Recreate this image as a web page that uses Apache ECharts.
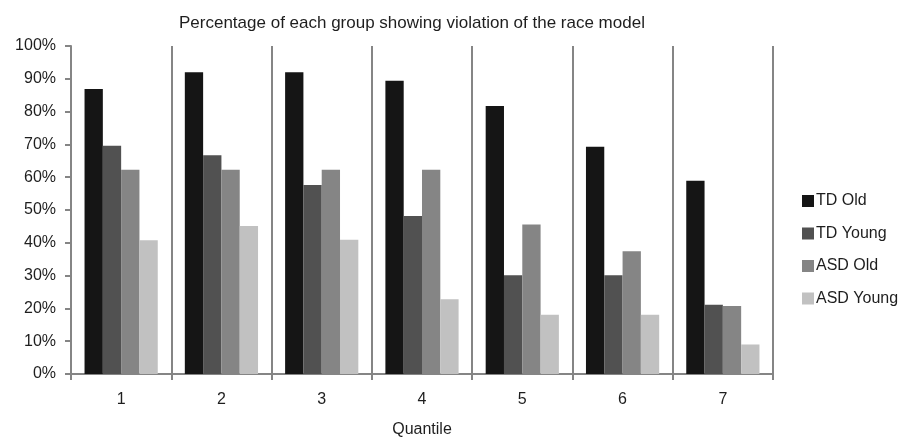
<!DOCTYPE html>
<html>
<head>
<meta charset="utf-8">
<script src="https://cdn.jsdelivr.net/npm/echarts@6/dist/echarts.min.js"></script>
<style>html,body{margin:0;padding:0;background:#fff;overflow:hidden}#c{width:910px;height:443px}</style>
</head>
<body>
<div id="c"></div>
<script>
const categories = ['1', '2', '3', '4', '5', '6', '7'];
const tdOld = [86.9, 92.0, 92.0, 89.4, 81.7, 69.3, 58.9];
const tdYoung = [69.6, 66.7, 57.6, 48.2, 30.1, 30.1, 21.1];
const asdOld = [62.3, 62.3, 62.3, 62.3, 45.6, 37.4, 20.7];
const asdYoung = [40.8, 45.1, 40.9, 22.8, 18.1, 18.1, 9.0];
const seriesNames = ['TD Old', 'TD Young', 'ASD Old', 'ASD Young'];
const colors = ['#151515', '#515151', '#858585', '#c1c1c1'];

const font = 'Liberation Sans, Arial, Helvetica, sans-serif';
const axisGray = '#858585';
const textColor = '#1e1e1e';
const chart = echarts.init(document.getElementById('c'), null, {renderer: 'canvas', width: 910, height: 443});
const values = [tdOld, tdYoung, asdOld, asdYoung];
chart.setOption({
  animation: false,
  title: {
    text: 'Percentage of each group showing violation of the race model',
    left: 174, top: 10,
    textStyle: {fontFamily: font, fontSize: 17, fontWeight: 'normal', color: textColor}
  },
  legend: {
    orient: 'vertical', left: 802, top: 193, padding: 0,
    itemWidth: 12, itemHeight: 12, itemGap: 16.5,
    icon: 'rect',
    textStyle: {fontFamily: font, fontSize: 16, color: textColor, padding: [0, 0, 0, -3]},
    data: seriesNames
  },
  grid: {left: 71, top: 46, width: 702, height: 335, containLabel: false},
  xAxis: {
    type: 'category', data: categories,
    name: 'Quantile', nameLocation: 'middle', nameGap: 48,
    nameTextStyle: {fontFamily: font, fontSize: 16, color: textColor},
    axisLine: {lineStyle: {color: axisGray, width: 2}},
    axisTick: {show: true, length: 6, lineStyle: {color: axisGray, width: 2}},
    axisLabel: {fontFamily: font, fontSize: 16, color: textColor, margin: 18},
    splitLine: {show: true, lineStyle: {color: axisGray, width: 2}}
  },
  yAxis: {
    type: 'value', min: 0, max: 100, interval: 10,
    axisLine: {show: true, lineStyle: {color: axisGray, width: 2}},
    axisTick: {show: true, length: 6, lineStyle: {color: axisGray, width: 2}},
    axisLabel: {fontFamily: font, fontSize: 16, color: textColor, margin: 15, formatter: '{value}%'},
    splitLine: {show: false}
  },
  series: seriesNames.map((n, i) => ({
    name: n, type: 'bar', data: values[i],
    barGap: '0%', barCategoryGap: '27%',
    itemStyle: {color: colors[i]}
  }))
});
</script>
</body>
</html>
